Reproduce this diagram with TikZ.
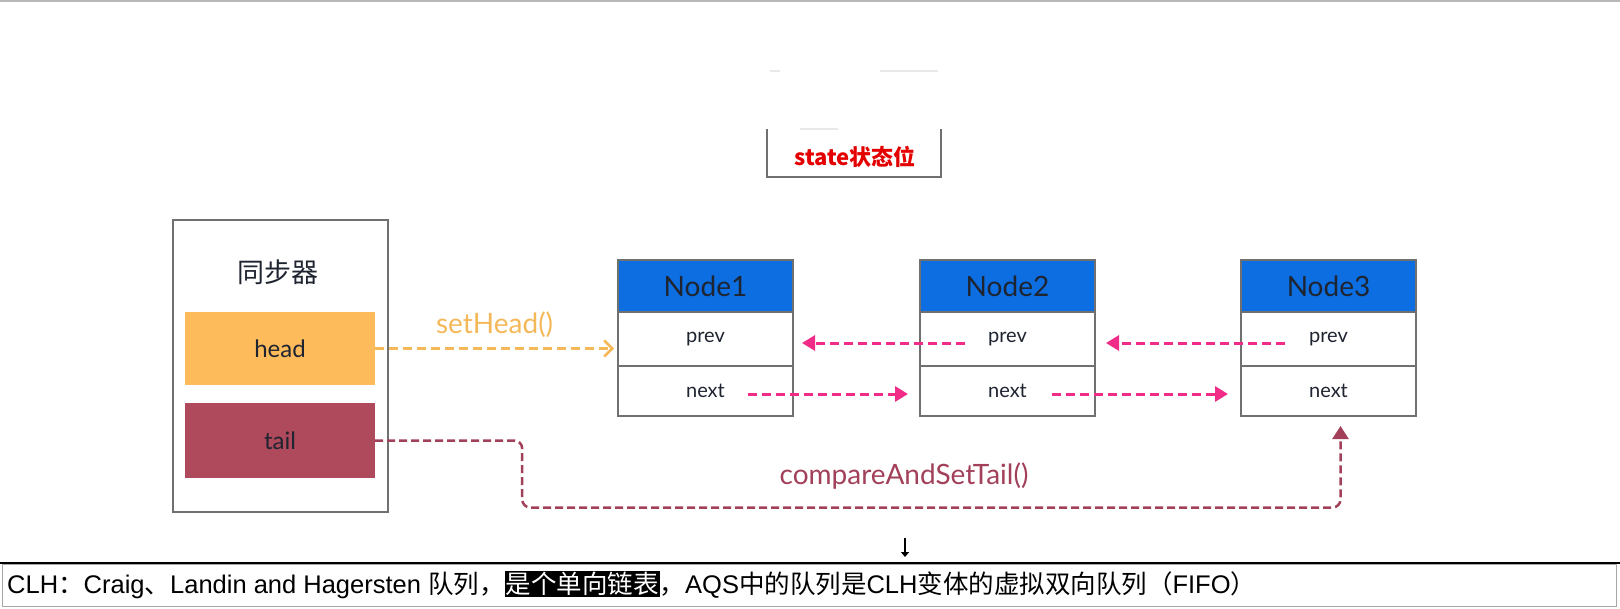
\documentclass[tikz,border=0pt]{standalone}
\usepackage{fontspec}
\setmainfont{Lato}
\newfontfamily\cjk{Noto Sans CJK SC}
\newfontfamily\bannerfont{Liberation Sans}
\usepackage{xcolor}
\usetikzlibrary{arrows.meta,positioning,calc}

\definecolor{linegray}{RGB}{112,112,112}
\definecolor{hdrblue}{RGB}{12,110,224}
\definecolor{inkdark}{RGB}{30,36,48}
\definecolor{headorange}{RGB}{253,187,92}
\definecolor{tailrose}{RGB}{174,74,91}
\definecolor{sethead}{RGB}{244,184,88}
\definecolor{casred}{RGB}{162,64,90}
\definecolor{linkpink}{RGB}{240,44,136}
\definecolor{statered}{RGB}{228,0,0}

\newcommand{\zh}[1]{{\cjk #1}}

\begin{document}
\begin{tikzpicture}[x=1pt, y=-1pt,
  frame/.style={draw=linegray, line width=2.5pt, outer sep=0pt},
  bar/.style={minimum width=190pt, inner sep=0pt, font=\fontsize{24}{24}\selectfont, text=inkdark},
  hdr/.style={frame, fill=hdrblue, minimum width=175pt, minimum height=52pt, inner sep=0pt, font=\fontsize{28}{28}\selectfont, text=inkdark},
  cell/.style={frame, fill=white, minimum width=175pt, inner sep=0pt, font=\fontsize{20}{20}\selectfont, text=inkdark},
  link/.style={-{Triangle[length=13pt,width=15pt]}, line width=3pt, dash pattern=on 9pt off 5pt, draw=linkpink},
  headlink/.style={-{Straight Barb[length=8pt,width=16pt]}, line width=2.5pt, dash pattern=on 9pt off 5pt, draw=sethead},
  taillink/.style={-{Triangle[length=13pt,width=16pt]}, line width=2.5pt, dash pattern=on 8pt off 4pt, draw=casred, rounded corners=8pt},
  node distance=0pt and 127pt
]
\useasboundingbox (0,0) rectangle (1620,608);
\draw[gray!55, line width=1.5pt] (0,1) -- (1620,1);

% state box (open at the top)
\draw[gray!18, line width=1.5pt] (770,71) -- (780,71) (880,71) -- (938,71) (800,129) -- (838,129);
\draw[frame] (767,129) -- (767,177) -- (941,177) -- (941,129);
\node[font=\fontsize{22}{22}\selectfont\cjk\bfseries, text=statered] (state) at (855,157) {state状态位};

% synchronizer
\node[frame, minimum width=215pt, minimum height=292pt] (sync) at (280.5,366) {};
\node[font=\fontsize{27}{27}\selectfont\cjk, text=inkdark] (synctitle) at (278,272) {同步器};
\node[bar, fill=headorange, minimum height=73pt] (head) at (280,348.5) {head};
\node[bar, fill=tailrose, minimum height=75pt] (tail) at (280,440.5) {tail};

% queue nodes
\node[hdr] (h1) at (705.5,286) {Node1};
\node[cell, minimum height=54pt, anchor=north] (p1) at (h1.south) {prev};
\node[cell, minimum height=50pt, anchor=north] (n1) at (p1.south) {next};

\node[hdr, right=of h1] (h2) {Node2};
\node[cell, minimum height=54pt, anchor=north] (p2) at (h2.south) {prev};
\node[cell, minimum height=50pt, anchor=north] (n2) at (p2.south) {next};

\node[hdr, right=146pt of h2] (h3) {Node3};
\node[cell, minimum height=54pt, anchor=north] (p3) at (h3.south) {prev};
\node[cell, minimum height=50pt, anchor=north] (n3) at (p3.south) {next};

% links
\draw[link] ($(p2.center)+(-43,4)$) -- ($(p1.east)+(9,4)$);
\draw[link] ($(p3.center)+(-44,4)$) -- ($(p2.east)+(11,4)$);
\draw[link] ($(n1.center)+(42,3)$) -- ($(n2.west)+(-12,3)$);
\draw[link] ($(n2.center)+(44,3)$) -- ($(n3.west)+(-13,3)$);

\draw[headlink] (head.east) -- node[above=6pt, font=\fontsize{28}{28}\selectfont, text=sethead] (setlbl) {setHead()} ($(head.east -| p1.west)+(-4,0)$);

\draw[taillink] (tail.east) -- ++(147,0) -- ++(0,67) -| ($(n3.south)+(12,10)$);
\node[font=\fontsize{28}{28}\selectfont, text=casred] (caslbl) at (904,476) {compareAndSetTail()};

% caption bar
\draw[black, line width=1.5pt] (0,563) -- (1620,563);
\draw[gray!70, line width=1pt] (2,564) rectangle (1616,606);
\draw[-{Triangle[length=5pt,width=8pt]}, line width=2pt] (905,538) -- (905,557);
\node[anchor=west, inner sep=0pt, font=\fontsize{25.5}{25.5}\selectfont\bannerfont] (caption) at (7,585)
  {CLH\zh{：}Craig\zh{、}Landin and Hagersten \zh{队列，}{\setlength\fboxsep{1pt}\colorbox{black}{\textcolor{white}{\zh{是个单向链表}}}}\zh{，}AQS\zh{中的队列是}CLH\zh{变体的虚拟双向队列（}FIFO\zh{）}};
\end{tikzpicture}
\end{document}
